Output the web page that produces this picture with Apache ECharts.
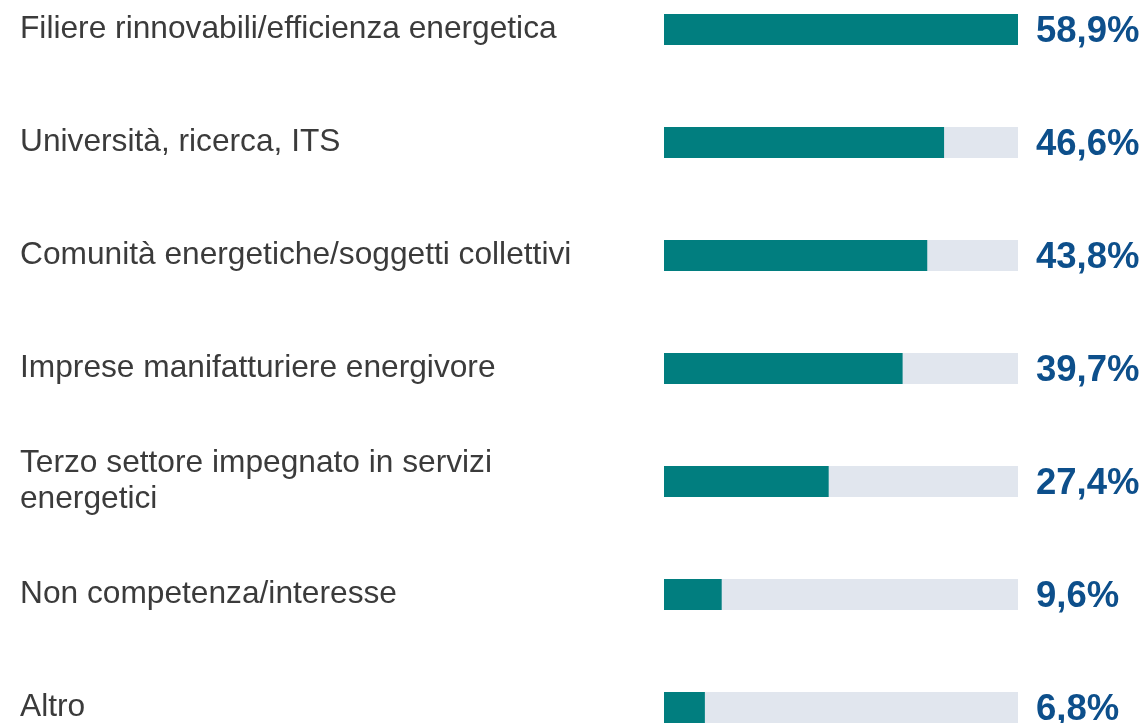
<!DOCTYPE html>
<html>
<head>
<meta charset="utf-8">
<script src="https://cdn.jsdelivr.net/npm/echarts@6/dist/echarts.min.js"></script>
<style>
  html, body { margin: 0; padding: 0; background: #fff; overflow: hidden; }
  #chart { width: 1145px; height: 791px; margin-top: -27px; }
</style>
</head>
<body>
<div id="chart"></div>
<script>
const categories = [
  'Filiere rinnovabili/efficienza energetica',
  'Università, ricerca, ITS',
  'Comunità energetiche/soggetti collettivi',
  'Imprese manifatturiere energivore',
  'Terzo settore impegnato in servizi\nenergetici',
  'Non competenza/interesse',
  'Altro'
];
const values = [58.9, 46.6, 43.8, 39.7, 27.4, 9.6, 6.8];
const maxValue = 58.9;
const trackValues = categories.map(() => maxValue);

const chart = echarts.init(document.getElementById('chart'));

const fmt = (v) => v.toFixed(1).replace('.', ',') + '%';

chart.setOption({
  animation: false,
  textStyle: { fontFamily: 'Liberation Sans, Arial, sans-serif' },
  grid: {
    left: 664,
    right: 127,
    top: 0,
    bottom: 0,
    containLabel: false
  },
  xAxis: {
    type: 'value',
    min: 0,
    max: maxValue,
    show: false
  },
  yAxis: {
    type: 'category',
    data: categories,
    inverse: true,
    axisLine: { show: false },
    axisTick: { show: false },
    splitLine: { show: false },
    axisLabel: {
      align: 'left',
      margin: 644,
      color: '#3b3b3b',
      fontSize: 31.7,
      lineHeight: 36,
      padding: [0, 0, 2, 0],
      fontFamily: 'Liberation Sans, Arial, sans-serif'
    }
  },
  series: [
    {
      // 背景条
      type: 'bar',
      data: trackValues,
      barWidth: 31,
      barGap: '-100%',
      silent: true,
      itemStyle: { color: '#e1e6ee' },
      label: {
        show: true,
        position: 'right',
        distance: 18,
        offset: [0, 2],
        color: '#0d4f8b',
        fontSize: 36.5,
        fontWeight: 'bold',
        fontFamily: 'Liberation Sans, Arial, sans-serif',
        formatter: (p) => fmt(values[p.dataIndex])
      },
      z: 1
    },
    {
      type: 'bar',
      data: values,
      barWidth: 31,
      barGap: '-100%',
      itemStyle: { color: '#017e7f' },
      z: 2
    }
  ]
});
</script>
</body>
</html>
